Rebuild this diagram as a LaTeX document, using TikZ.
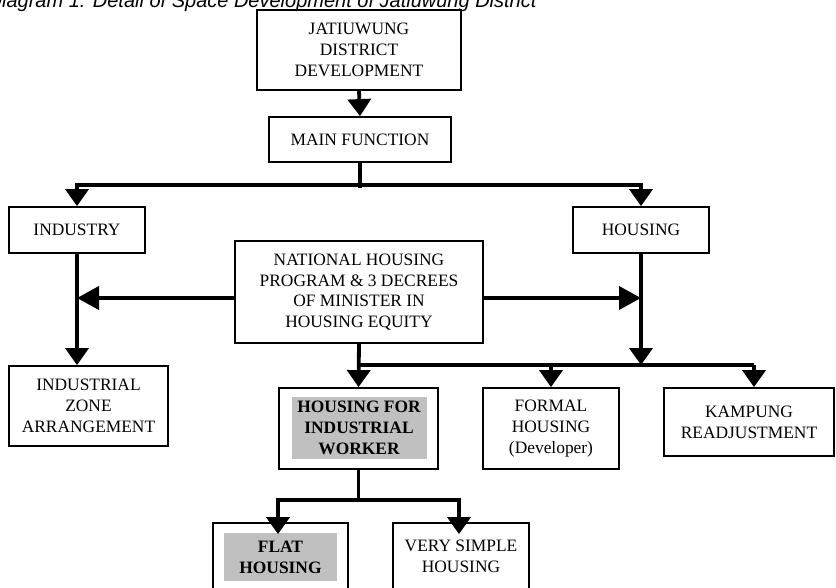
\documentclass[tikz,border=0pt]{standalone}
\usepackage{fontspec}
\setmainfont{Liberation Serif}
\newfontfamily\titlefont{Liberation Sans}
\usetikzlibrary{arrows.meta}
\definecolor{hilite}{RGB}{192,192,192}

\begin{document}
\begin{tikzpicture}[x=1pt, y=-1pt,
  box/.style={draw, line width=1.8pt, inner sep=0pt, align=center,
    font=\fontsize{17.4}{20.7}\selectfont},
  mark grey/.style={fill=hilite, inner sep=0pt, align=center,
    font=\fontsize{17.4}{20.7}\selectfont\bfseries},
  link/.style={line width=3.8pt},
  arrow/.style={link, -{Triangle[width=23pt,length=17pt]}},
  harrow/.style={link, -{Triangle[width=23pt,length=22pt]}},
  title/.style={inner sep=0pt, font=\titlefont\itshape\fontsize{20}{24}\selectfont}]
\useasboundingbox (0,0) rectangle (836,587);
\clip (0,0) rectangle (836,587);
\node[title, anchor=base west] (title) at (-12.5,7) {Diagram 1: Detail of Space Development of Jatiuwung District};

\node[box, minimum width=204pt, minimum height=80pt] (jat) at (359,50) {JATIUWUNG\\DISTRICT\\DEVELOPMENT};
\node[box, minimum width=182pt, minimum height=45pt] (mainf) at (360,139.5) {MAIN FUNCTION};
\node[box, minimum width=136pt, minimum height=46pt] (ind) at (77,230) {INDUSTRY};
\node[box, minimum width=136pt, minimum height=46pt] (hous) at (641,230) {HOUSING};
\node[box, minimum width=248pt, minimum height=102pt] (nat) at (359,292) {NATIONAL HOUSING\\PROGRAM \& 3 DECREES\\OF MINISTER IN\\HOUSING EQUITY};
\node[box, minimum width=159pt, minimum height=80pt] (zone) at (88.5,406) {INDUSTRIAL\\ZONE\\ARRANGEMENT};
\node[box, minimum width=159pt, minimum height=81pt] (hfiw) at (358.5,428.5) {};
\node[mark grey, minimum width=135pt, minimum height=62pt] (hfiwtext) at (359,428) {HOUSING FOR\\INDUSTRIAL\\WORKER};
\node[box, minimum width=136pt, minimum height=81pt] (formal) at (551,428.5) {FORMAL\\HOUSING\\(Developer)};
\node[box, minimum width=170pt, minimum height=68pt] (kamp) at (749,422) {KAMPUNG\\READJUSTMENT};
\node[box, minimum width=135pt, minimum height=67pt] (flat) at (280.5,556.5) {};
\node[mark grey, minimum width=113pt, minimum height=48pt] (flattext) at (280.5,557) {FLAT\\HOUSING};
\node[box, minimum width=136pt, minimum height=67pt] (vsh) at (461,556.5) {VERY SIMPLE\\HOUSING};

\coordinate (b1w) at (77,185);
\coordinate (b1e) at (641,185);
\coordinate (b2e) at (754,365);
\coordinate (b3w) at (278,500);
\coordinate (b3e) at (459,500);
\coordinate (natl) at ([yshift=-6pt]nat.west);
\coordinate (natr) at ([yshift=-6pt]nat.east);

\draw[arrow] (jat.south) -- (mainf.north);
\draw[link] (mainf.south) -- ([yshift=-3pt]mainf.south |- b1w);
\draw[link, {Triangle[width=23pt,length=17pt]}-{Triangle[width=23pt,length=17pt]}] (ind.north) -- (b1w) -- (b1e) -- (hous.north);
\draw[harrow] (natl) -- (natl -| ind.south);
\draw[harrow] (natr) -- (natr -| hous.south);
\draw[arrow] (ind.south) -- (ind.south |- zone.north);
\draw[arrow] (hous.south) -- (hous.south |- b2e);
\draw[link] (nat.south |- b2e) -- (b2e);
\draw[arrow] (nat.south) -- (hfiw.north);
\draw[arrow] (formal.north |- b2e) -- (formal.north);
\draw[arrow] (b2e) -- (b2e |- kamp.north);
\draw[link] (hfiw.south) -- (hfiw.south |- b3w);
\draw[link, {Triangle[width=23pt,length=17pt]}-{Triangle[width=23pt,length=17pt]}, shorten <=-12pt, shorten >=-12pt] (b3w |- flat.north) -- (b3w) -- (b3e) -- (b3e |- vsh.north);
\end{tikzpicture}
\end{document}
